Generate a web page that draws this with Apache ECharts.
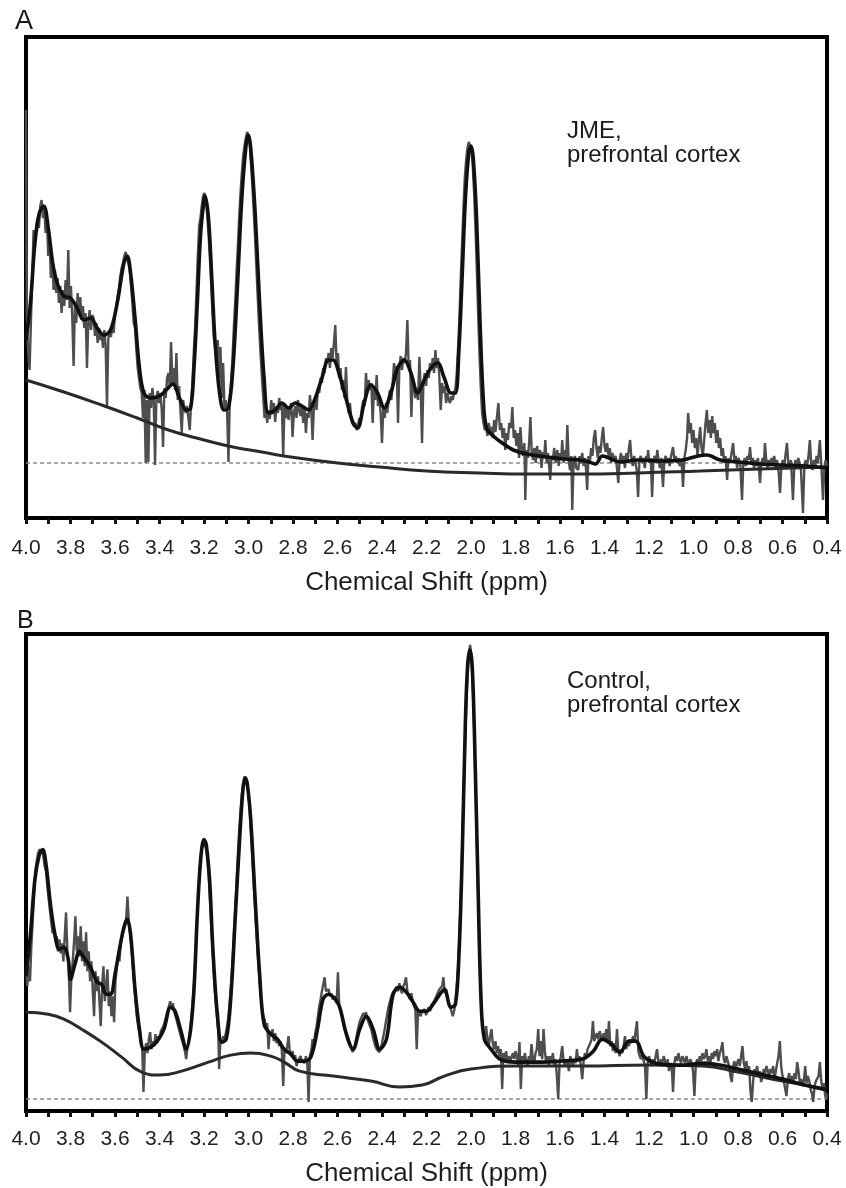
<!DOCTYPE html>
<html>
<head>
<meta charset="utf-8">
<script src="https://cdn.jsdelivr.net/npm/echarts@6/dist/echarts.min.js"></script>
<style>
html, body { margin: 0; background: #fff; }
#chart { width: 846px; height: 1188px; }
</style>
</head>
<body>
<div id="chart"></div>
<script>
var FONT = '"Liberation Sans", Arial, Helvetica, sans-serif';

// x range of both spectra (ppm, drawn right to left)
var shiftMin = 0.4, shiftMax = 4.0, shiftStep = 0.1;
var axisName = 'Chemical Shift (ppm)';
var panelLetters = ['A', 'B'];
var panelNotes = [['JME,', 'prefrontal cortex'], ['Control,', 'prefrontal cortex']];

// intensities in arbitrary units
// ---- panel A : JME ----
var fitA = [[4.00,178],[3.98,215],[3.96,275],[3.94,305],[3.92,312],[3.90,290],[3.88,255],[3.86,235],[3.83,222],[3.80,220],
  [3.77,210],[3.74,198],[3.71,200],[3.68,190],[3.65,183],[3.62,188],[3.59,215],[3.56,255],[3.545,262],[3.53,245],
  [3.51,200],[3.49,150],[3.47,125],[3.44,120],[3.40,122],[3.37,128],[3.34,134],[3.31,120],[3.28,108],[3.26,110],
  [3.245,150],[3.23,215],[3.215,285],[3.20,318],[3.195,322],[3.18,300],[3.165,240],[3.15,175],[3.13,125],[3.11,108],
  [3.09,110],[3.07,150],[3.05,230],[3.03,320],[3.01,375],[3.00,383],[2.99,370],[2.97,305],[2.95,215],[2.93,140],
  [2.91,105],[2.88,108],[2.85,115],[2.82,110],[2.79,115],[2.76,112],[2.73,108],[2.70,120],[2.67,140],[2.64,158],
  [2.62,158],[2.59,142],[2.56,118],[2.53,95],[2.51,90],[2.48,115],[2.45,133],[2.42,125],[2.39,110],[2.36,125],
  [2.33,150],[2.30,158],[2.27,145],[2.24,125],[2.21,138],[2.18,150],[2.15,155],[2.12,140],[2.09,125],[2.07,125],
  [2.055,165],[2.04,240],[2.025,320],[2.01,365],[2.00,372],[1.99,360],[1.975,300],[1.96,200],[1.945,120],[1.93,90],
  [1.90,82],[1.86,75],[1.81,68],[1.75,64],[1.66,61],[1.58,59],[1.51,58],[1.47,56],[1.44,54],[1.41,62],
  [1.38,60],[1.33,56],[1.25,58],[1.15,57],[1.05,58],[0.98,62],[0.94,63],[0.88,58],[0.80,56],[0.70,54],
  [0.60,53],[0.50,52],[0.40,50]];

var baseA = [[4.00,138],[3.83,126],[3.66,113],[3.50,100],[3.36,88],[3.20,78],[3.07,71],[2.94,66],[2.81,61],[2.60,55],
  [2.41,51],[2.20,47],[1.96,45],[1.75,44],[1.51,44],[1.25,45],[0.97,47],[0.70,49],[0.40,51]];

var dotA = 55;

var rawA = [[4.000,408],[3.998,300],[3.996,200],[3.990,165],[3.984,148],[3.978,195],[3.972,240],[3.966,288],[3.960,270],[3.954,292],[3.948,300],
  [3.942,290],[3.936,312],[3.930,318],[3.924,300],[3.918,310],[3.912,285],[3.906,298],[3.900,262],[3.894,275],[3.888,240],
  [3.882,258],[3.876,228],[3.870,248],[3.864,225],[3.858,240],[3.852,215],[3.846,232],[3.840,205],[3.834,228],[3.828,212],
  [3.822,238],[3.816,218],[3.810,268],[3.804,210],[3.798,232],[3.792,200],[3.786,152],[3.780,215],[3.774,195],[3.768,225],
  [3.762,205],[3.756,221],[3.750,198],[3.744,212],[3.738,190],[3.732,205],[3.726,150],[3.720,195],[3.714,208],[3.708,188],
  [3.702,203],[3.696,200],[3.690,182],[3.684,195],[3.678,175],[3.672,190],[3.666,178],[3.660,185],[3.654,170],[3.648,188],
  [3.642,172],[3.636,111],[3.630,180],[3.624,185],[3.618,181],[3.612,195],[3.606,185],[3.600,205],[3.594,212],[3.588,222],
  [3.582,230],[3.576,242],[3.570,250],[3.564,255],[3.558,262],[3.552,266],[3.546,260],[3.540,255],[3.534,248],[3.528,232],
  [3.522,215],[3.516,195],[3.510,190],[3.504,168],[3.498,150],[3.492,140],[3.486,130],[3.480,125],[3.474,100],[3.468,128],
  [3.462,55],[3.456,118],[3.450,56],[3.444,125],[3.438,110],[3.432,130],[3.426,118],[3.420,53],[3.414,120],[3.408,127],
  [3.402,115],[3.396,125],[3.390,108],[3.384,71],[3.378,130],[3.372,120],[3.366,140],[3.360,145],[3.354,132],[3.348,176],
  [3.342,135],[3.336,150],[3.330,128],[3.324,165],[3.318,118],[3.312,132],[3.306,108],[3.300,85],[3.294,118],[3.288,110],
  [3.282,105],[3.276,112],[3.270,100],[3.264,88],[3.258,115],[3.252,135],[3.246,165],[3.240,190],[3.234,225],[3.228,260],
  [3.222,292],[3.216,300],[3.210,312],[3.204,322],[3.198,325],[3.192,318],[3.186,305],[3.180,285],[3.174,262],[3.168,235],
  [3.162,205],[3.156,180],[3.150,172],[3.144,160],[3.138,178],[3.132,140],[3.126,171],[3.120,120],[3.114,155],[3.108,110],
  [3.102,118],[3.096,105],[3.090,56],[3.084,120],[3.078,138],[3.072,160],[3.066,190],[3.060,215],[3.054,245],[3.048,270],
  [3.042,300],[3.036,325],[3.030,345],[3.024,362],[3.018,372],[3.012,380],[3.006,386],[3.000,382],[2.994,372],[2.988,352],
  [2.982,330],[2.976,305],[2.970,278],[2.964,248],[2.958,218],[2.952,190],[2.946,165],[2.940,142],[2.934,121],[2.928,100],
  [2.922,112],[2.916,95],[2.910,108],[2.904,99],[2.898,118],[2.892,104],[2.886,115],[2.880,96],[2.874,112],[2.868,105],
  [2.862,120],[2.856,108],[2.850,113],[2.844,61],[2.838,115],[2.832,100],[2.826,112],[2.820,98],[2.814,110],[2.808,115],
  [2.802,81],[2.796,105],[2.790,112],[2.784,100],[2.778,118],[2.772,108],[2.766,102],[2.760,112],[2.754,95],[2.748,110],
  [2.742,85],[2.736,105],[2.730,100],[2.724,123],[2.718,110],[2.712,78],[2.706,112],[2.700,118],[2.694,108],[2.688,130],
  [2.682,125],[2.676,140],[2.670,135],[2.664,150],[2.658,145],[2.652,160],[2.646,155],[2.640,165],[2.634,150],[2.628,170],
  [2.622,160],[2.616,175],[2.610,193],[2.604,155],[2.598,165],[2.592,140],[2.586,150],[2.580,128],[2.574,138],[2.568,120],
  [2.562,151],[2.556,118],[2.550,105],[2.544,115],[2.538,98],[2.532,100],[2.526,92],[2.520,95],[2.514,88],[2.508,92],
  [2.502,100],[2.496,95],[2.490,110],[2.484,118],[2.478,112],[2.472,145],[2.466,125],[2.460,138],[2.454,128],[2.448,135],
  [2.442,95],[2.436,130],[2.430,118],[2.424,143],[2.418,112],[2.412,120],[2.406,105],[2.400,75],[2.394,110],[2.388,100],
  [2.382,115],[2.376,105],[2.370,120],[2.364,128],[2.358,118],[2.352,135],[2.346,155],[2.340,140],[2.334,152],[2.328,95],
  [2.322,150],[2.316,162],[2.310,148],[2.304,160],[2.298,155],[2.292,165],[2.286,198],[2.280,150],[2.274,158],[2.268,101],
  [2.262,140],[2.256,132],[2.250,120],[2.244,130],[2.238,118],[2.232,161],[2.226,128],[2.220,75],[2.214,135],[2.208,145],
  [2.202,132],[2.196,148],[2.190,140],[2.184,155],[2.178,148],[2.172,160],[2.166,145],[2.160,168],[2.154,150],[2.148,160],
  [2.142,140],[2.136,108],[2.130,135],[2.124,125],[2.118,132],[2.112,115],[2.106,125],[2.100,118],[2.094,115],[2.088,122],
  [2.082,118],[2.076,125],[2.070,130],[2.064,145],[2.058,170],[2.052,200],[2.046,240],[2.040,275],[2.034,310],[2.028,340],
  [2.022,358],[2.016,370],[2.010,376],[2.004,374],[1.998,368],[1.992,352],[1.986,325],[1.980,290],[1.974,250],[1.968,205],
  [1.962,165],[1.956,130],[1.950,105],[1.944,95],[1.938,88],[1.932,92],[1.926,82],[1.920,95],[1.914,85],[1.908,91],
  [1.902,80],[1.896,98],[1.890,86],[1.884,100],[1.877,115],[1.870,88],[1.864,95],[1.858,80],[1.852,90],[1.846,68],
  [1.840,85],[1.834,78],[1.828,95],[1.820,90],[1.814,111],[1.808,80],[1.802,88],[1.796,72],[1.790,85],[1.784,60],
  [1.778,91],[1.772,70],[1.766,62],[1.760,75],[1.756,18],[1.750,68],[1.744,60],[1.738,78],[1.733,101],[1.727,65],
  [1.721,58],[1.715,70],[1.709,55],[1.703,72],[1.697,60],[1.689,68],[1.683,50],[1.677,66],[1.671,60],[1.666,78],
  [1.660,55],[1.654,65],[1.648,50],[1.644,38],[1.638,62],[1.632,58],[1.626,70],[1.620,55],[1.612,68],[1.606,52],
  [1.600,65],[1.594,60],[1.590,78],[1.584,55],[1.578,68],[1.572,60],[1.567,93],[1.561,58],[1.555,48],[1.549,62],
  [1.545,8],[1.539,55],[1.533,62],[1.527,50],[1.518,48],[1.512,62],[1.506,55],[1.500,65],[1.494,52],[1.487,60],
  [1.482,45],[1.478,28],[1.472,62],[1.466,55],[1.460,70],[1.454,62],[1.448,80],[1.442,88],[1.436,70],[1.430,60],
  [1.424,72],[1.418,65],[1.412,80],[1.406,91],[1.400,72],[1.394,66],[1.388,75],[1.382,62],[1.376,70],[1.370,55],
  [1.364,65],[1.358,58],[1.350,62],[1.344,50],[1.338,35],[1.332,58],[1.326,65],[1.320,55],[1.314,62],[1.308,50],
  [1.302,65],[1.296,58],[1.290,70],[1.285,78],[1.279,60],[1.273,52],[1.267,62],[1.261,55],[1.255,48],[1.249,21],
  [1.243,58],[1.237,62],[1.231,55],[1.225,60],[1.219,50],[1.213,62],[1.207,58],[1.204,68],[1.198,55],[1.192,60],
  [1.186,21],[1.180,58],[1.174,62],[1.168,55],[1.163,68],[1.157,58],[1.151,50],[1.145,60],[1.137,31],[1.131,58],
  [1.125,62],[1.119,55],[1.113,60],[1.107,52],[1.101,62],[1.092,71],[1.086,58],[1.080,62],[1.074,55],[1.068,60],
  [1.062,52],[1.054,58],[1.047,31],[1.041,60],[1.035,68],[1.029,80],[1.024,105],[1.018,85],[1.012,95],[1.006,75],
  [1.000,88],[0.994,70],[0.988,80],[0.982,62],[0.976,78],[0.970,91],[0.964,70],[0.958,62],[0.952,78],[0.946,95],
  [0.940,108],[0.934,85],[0.928,98],[0.922,80],[0.916,102],[0.910,85],[0.904,95],[0.898,75],[0.892,88],[0.886,70],
  [0.880,80],[0.874,62],[0.868,70],[0.862,55],[0.856,62],[0.849,38],[0.843,60],[0.837,55],[0.831,62],[0.822,75],
  [0.816,58],[0.810,62],[0.804,50],[0.798,60],[0.790,55],[0.782,18],[0.776,55],[0.770,60],[0.764,52],[0.758,62],
  [0.752,58],[0.746,71],[0.740,55],[0.734,60],[0.728,50],[0.722,58],[0.716,52],[0.710,60],[0.701,35],[0.695,55],
  [0.689,60],[0.684,52],[0.679,75],[0.673,58],[0.667,50],[0.661,58],[0.655,52],[0.649,60],[0.643,55],[0.637,62],
  [0.631,50],[0.625,58],[0.617,45],[0.611,25],[0.605,52],[0.599,58],[0.593,50],[0.587,62],[0.580,75],[0.574,55],
  [0.568,50],[0.562,58],[0.553,18],[0.547,52],[0.541,58],[0.535,50],[0.529,60],[0.523,55],[0.517,48],[0.508,5],
  [0.502,50],[0.496,58],[0.490,52],[0.484,60],[0.477,78],[0.471,55],[0.465,48],[0.459,58],[0.453,50],[0.447,62],
  [0.441,55],[0.432,78],[0.426,55],[0.418,18],[0.412,50],[0.406,58],[0.400,52]];

// ---- panel B : control ----
var fitB = [[4.00,135],[3.98,177],[3.96,232],[3.94,257],[3.925,262],[3.91,247],[3.89,207],[3.87,177],[3.85,162],[3.83,164],
  [3.81,152],[3.80,132],[3.78,147],[3.76,160],[3.74,154],[3.71,144],[3.68,129],[3.66,127],[3.64,117],[3.62,117],
  [3.60,137],[3.58,162],[3.56,184],[3.545,192],[3.53,177],[3.51,122],[3.49,82],[3.47,62],[3.44,64],[3.41,70],
  [3.38,82],[3.35,104],[3.33,100],[3.30,77],[3.28,62],[3.26,82],[3.245,122],[3.23,197],[3.215,252],[3.20,272],
  [3.19,267],[3.175,232],[3.16,162],[3.14,97],[3.12,69],[3.10,72],[3.08,112],[3.06,192],[3.04,272],[3.025,322],
  [3.015,334],[3.005,327],[2.99,292],[2.97,212],[2.95,137],[2.93,87],[2.90,77],[2.87,72],[2.84,62],[2.81,57],
  [2.78,50],[2.75,50],[2.72,54],[2.69,82],[2.665,112],[2.64,117],[2.61,112],[2.59,104],[2.56,77],[2.53,62],
  [2.50,82],[2.47,95],[2.44,82],[2.41,62],[2.38,72],[2.35,117],[2.32,124],[2.29,119],[2.26,109],[2.23,100],
  [2.20,100],[2.17,107],[2.14,117],[2.12,122],[2.09,104],[2.07,107],[2.055,152],[2.04,252],[2.025,392],[2.015,447],
  [2.005,462],[1.995,447],[1.985,382],[1.97,242],[1.955,112],[1.94,72],[1.91,62],[1.87,52],[1.80,49],[1.70,49],
  [1.60,50],[1.50,52],[1.45,60],[1.41,72],[1.37,67],[1.33,59],[1.29,70],[1.26,70],[1.22,54],[1.15,47],
  [1.05,46],[0.95,48],[0.88,46],[0.80,42],[0.70,37],[0.60,32],[0.50,26],[0.40,21]];

var baseB = [[4.00,99],[3.90,97],[3.83,92],[3.75,82],[3.66,69],[3.57,54],[3.48,39],[3.40,36],[3.30,40],[3.18,49],
  [3.08,56],[2.99,58],[2.90,55],[2.84,49],[2.77,40],[2.62,35],[2.45,30],[2.32,24],[2.22,26],[2.12,35],
  [2.00,42],[1.80,45],[1.50,45],[1.20,46],[0.96,45],[0.80,39],[0.60,30],[0.40,22]];

var dotB = 12;

var rawB = [[4.000,140],[3.994,125],[3.988,145],[3.982,130],[3.976,165],[3.970,190],[3.964,215],[3.958,240],[3.952,250],[3.946,258],
  [3.940,262],[3.934,264],[3.928,260],[3.922,255],[3.916,245],[3.910,240],[3.904,225],[3.898,212],[3.892,200],[3.886,188],
  [3.880,178],[3.874,182],[3.868,170],[3.862,175],[3.856,160],[3.850,172],[3.844,158],[3.838,168],[3.832,150],[3.826,175],
  [3.820,199],[3.814,160],[3.808,140],[3.802,99],[3.796,135],[3.790,150],[3.784,170],[3.778,195],[3.772,160],[3.766,175],
  [3.760,155],[3.754,185],[3.748,150],[3.742,170],[3.736,145],[3.730,179],[3.724,140],[3.718,160],[3.712,130],[3.706,150],
  [3.700,120],[3.694,95],[3.688,140],[3.682,120],[3.676,135],[3.670,110],[3.664,85],[3.658,125],[3.652,145],[3.646,110],
  [3.640,125],[3.634,142],[3.628,105],[3.622,120],[3.616,95],[3.610,115],[3.604,89],[3.598,130],[3.592,145],[3.586,155],
  [3.580,150],[3.574,169],[3.568,175],[3.562,180],[3.556,185],[3.550,192],[3.544,215],[3.538,190],[3.532,178],[3.526,165],
  [3.520,145],[3.514,128],[3.508,110],[3.502,95],[3.496,85],[3.490,78],[3.484,70],[3.478,65],[3.472,19],[3.466,60],
  [3.460,68],[3.454,58],[3.448,72],[3.442,79],[3.436,62],[3.430,70],[3.424,65],[3.418,77],[3.412,68],[3.406,75],
  [3.400,72],[3.394,80],[3.388,78],[3.382,85],[3.376,90],[3.370,95],[3.364,100],[3.358,105],[3.352,110],[3.346,104],
  [3.340,108],[3.334,100],[3.328,95],[3.322,90],[3.316,85],[3.310,80],[3.304,75],[3.298,70],[3.292,66],[3.286,60],
  [3.280,52],[3.274,65],[3.268,72],[3.262,80],[3.256,95],[3.250,112],[3.244,130],[3.238,155],[3.232,185],[3.226,215],
  [3.220,240],[3.214,258],[3.208,268],[3.202,272],[3.196,270],[3.190,262],[3.184,250],[3.178,232],[3.172,205],[3.166,180],
  [3.160,155],[3.154,130],[3.148,110],[3.142,95],[3.136,80],[3.132,42],[3.126,72],[3.120,68],[3.114,75],[3.108,72],
  [3.102,78],[3.096,85],[3.090,95],[3.084,110],[3.078,128],[3.072,150],[3.066,175],[3.060,200],[3.054,228],[3.048,255],
  [3.042,280],[3.036,300],[3.030,318],[3.024,328],[3.018,335],[3.012,337],[3.006,330],[3.000,318],[2.994,300],[2.988,275],
  [2.982,250],[2.976,225],[2.970,200],[2.964,178],[2.958,155],[2.952,135],[2.946,118],[2.940,105],[2.934,95],[2.928,92],
  [2.922,85],[2.916,88],[2.910,62],[2.904,80],[2.898,75],[2.892,82],[2.886,70],[2.880,78],[2.874,68],[2.868,72],
  [2.862,65],[2.856,70],[2.850,60],[2.844,25],[2.838,62],[2.832,58],[2.826,65],[2.820,75],[2.814,58],[2.808,55],
  [2.802,60],[2.796,52],[2.790,56],[2.784,45],[2.778,50],[2.772,48],[2.766,55],[2.760,50],[2.754,52],[2.748,48],
  [2.742,55],[2.736,50],[2.730,9],[2.724,55],[2.718,60],[2.712,72],[2.706,68],[2.700,78],[2.694,85],[2.688,95],
  [2.682,105],[2.676,112],[2.670,120],[2.664,118],[2.658,134],[2.652,120],[2.646,118],[2.640,122],[2.634,115],[2.628,118],
  [2.622,112],[2.616,110],[2.610,115],[2.604,108],[2.598,139],[2.592,105],[2.586,100],[2.580,95],[2.574,88],[2.568,82],
  [2.562,78],[2.556,72],[2.550,68],[2.544,65],[2.538,62],[2.532,59],[2.526,62],[2.520,68],[2.514,75],[2.508,82],
  [2.502,88],[2.496,92],[2.490,95],[2.484,98],[2.478,95],[2.472,99],[2.466,92],[2.460,90],[2.454,85],[2.448,82],
  [2.442,75],[2.436,70],[2.430,65],[2.424,62],[2.418,60],[2.412,59],[2.406,62],[2.400,68],[2.394,75],[2.388,82],
  [2.382,90],[2.376,98],[2.370,105],[2.364,110],[2.358,115],[2.352,118],[2.346,120],[2.340,122],[2.334,125],[2.328,120],
  [2.322,128],[2.316,122],[2.310,118],[2.304,125],[2.298,128],[2.292,134],[2.286,120],[2.280,115],[2.274,112],[2.268,118],
  [2.262,110],[2.256,105],[2.250,102],[2.244,62],[2.238,100],[2.232,98],[2.226,95],[2.220,100],[2.214,98],[2.208,102],
  [2.202,96],[2.196,100],[2.190,104],[2.184,100],[2.178,106],[2.172,104],[2.166,110],[2.160,112],[2.154,116],[2.148,118],
  [2.142,122],[2.136,120],[2.130,125],[2.124,134],[2.118,118],[2.112,122],[2.106,112],[2.100,108],[2.094,104],[2.088,100],
  [2.082,95],[2.076,100],[2.070,108],[2.064,125],[2.058,145],[2.052,175],[2.046,215],[2.040,260],[2.034,310],[2.028,360],
  [2.022,400],[2.016,435],[2.010,458],[2.004,467],[1.998,455],[1.992,425],[1.986,385],[1.980,330],[1.974,270],[1.968,215],
  [1.962,160],[1.956,115],[1.950,90],[1.944,78],[1.938,70],[1.932,85],[1.926,72],[1.920,65],[1.914,75],[1.908,82],
  [1.902,68],[1.896,62],[1.890,70],[1.884,58],[1.878,65],[1.872,55],[1.866,62],[1.860,22],[1.854,58],[1.848,52],
  [1.842,60],[1.836,48],[1.830,55],[1.824,50],[1.818,49],[1.812,58],[1.806,52],[1.800,60],[1.794,55],[1.788,45],
  [1.782,69],[1.776,22],[1.770,55],[1.764,48],[1.758,58],[1.752,50],[1.746,45],[1.740,55],[1.734,50],[1.728,67],
  [1.722,52],[1.716,48],[1.710,58],[1.704,62],[1.698,82],[1.692,55],[1.686,70],[1.680,52],[1.674,82],[1.668,60],
  [1.662,48],[1.656,55],[1.650,45],[1.644,55],[1.638,50],[1.632,58],[1.626,45],[1.620,52],[1.614,35],[1.608,12],
  [1.602,48],[1.596,55],[1.590,65],[1.584,50],[1.578,45],[1.572,52],[1.566,48],[1.560,40],[1.554,55],[1.548,50],
  [1.542,45],[1.536,52],[1.530,48],[1.524,62],[1.518,50],[1.512,55],[1.506,45],[1.500,32],[1.494,50],[1.488,58],
  [1.482,55],[1.476,62],[1.470,60],[1.464,68],[1.458,72],[1.452,90],[1.446,70],[1.440,75],[1.434,78],[1.428,72],
  [1.422,80],[1.416,75],[1.410,70],[1.404,78],[1.398,72],[1.392,82],[1.386,68],[1.380,90],[1.374,65],[1.368,70],
  [1.362,60],[1.356,68],[1.350,58],[1.344,82],[1.338,60],[1.332,55],[1.326,62],[1.320,58],[1.314,65],[1.308,75],
  [1.302,62],[1.296,70],[1.290,65],[1.284,72],[1.278,68],[1.272,75],[1.266,70],[1.260,72],[1.254,90],[1.248,60],
  [1.242,55],[1.236,52],[1.230,58],[1.224,50],[1.218,45],[1.212,12],[1.206,48],[1.200,55],[1.194,50],[1.188,45],
  [1.182,52],[1.176,48],[1.170,55],[1.164,62],[1.158,50],[1.152,45],[1.146,52],[1.140,48],[1.134,55],[1.128,50],
  [1.122,45],[1.116,52],[1.110,40],[1.104,48],[1.098,45],[1.092,19],[1.086,48],[1.080,55],[1.074,50],[1.068,58],
  [1.062,52],[1.056,48],[1.050,55],[1.044,52],[1.038,48],[1.032,55],[1.026,50],[1.020,45],[1.014,52],[1.008,48],
  [1.002,40],[0.996,15],[0.990,45],[0.984,52],[0.978,48],[0.972,55],[0.966,50],[0.960,58],[0.954,52],[0.948,55],
  [0.942,62],[0.936,50],[0.930,55],[0.924,48],[0.918,58],[0.912,52],[0.906,60],[0.900,55],[0.894,62],[0.888,50],
  [0.882,58],[0.876,62],[0.870,69],[0.864,52],[0.858,48],[0.852,55],[0.846,50],[0.840,45],[0.834,35],[0.828,29],
  [0.822,45],[0.816,50],[0.810,42],[0.804,48],[0.798,52],[0.792,45],[0.786,55],[0.780,65],[0.774,48],[0.768,42],
  [0.762,50],[0.756,38],[0.750,45],[0.744,20],[0.738,9],[0.732,30],[0.726,42],[0.720,38],[0.714,45],[0.708,35],
  [0.702,40],[0.696,29],[0.690,35],[0.684,42],[0.678,38],[0.672,45],[0.666,40],[0.660,35],[0.654,42],[0.648,38],
  [0.642,45],[0.636,32],[0.630,40],[0.624,48],[0.618,55],[0.612,70],[0.606,45],[0.600,35],[0.594,30],[0.588,22],
  [0.582,15],[0.576,32],[0.570,38],[0.564,28],[0.558,35],[0.552,30],[0.546,38],[0.540,32],[0.534,49],[0.528,40],
  [0.522,28],[0.516,32],[0.510,25],[0.504,30],[0.498,45],[0.492,28],[0.486,35],[0.480,30],[0.474,22],[0.468,18],
  [0.462,9],[0.456,25],[0.450,30],[0.444,28],[0.438,35],[0.432,49],[0.426,30],[0.420,22],[0.414,28],[0.408,15],
  [0.402,12],[0.400,18]];

var myChart = echarts.init(document.getElementById('chart'), null, { renderer: 'canvas' });

// grid rectangles (frame centre lines)
var grids = [
  { left: 26, right: 19, top: 37, height: 481 },
  { left: 26, right: 19, top: 634, height: 478 }
];
var yMax = [481, 478];

function tickLabel(v) {
  var t = Math.round(v * 10);
  return t % 2 === 0 ? (t / 10).toFixed(1) : '';
}

function xAxisFor(i, margin, gap) {
  return {
    type: 'value', gridIndex: i, min: shiftMin, max: shiftMax, interval: shiftStep, inverse: true,
    axisLine: { show: false },
    axisTick: { show: true, length: 6, lineStyle: { color: '#111', width: 3 } },
    axisLabel: { margin: margin, fontSize: 21, color: '#1e1e1e', fontFamily: FONT, formatter: tickLabel },
    splitLine: { show: false },
    name: axisName, nameLocation: 'middle', nameGap: gap,
    nameTextStyle: { fontSize: 26, color: '#1e1e1e', fontFamily: FONT }
  };
}

function yAxisFor(i) {
  return {
    type: 'value', gridIndex: i, min: 0, max: yMax[i],
    axisLine: { show: false }, axisTick: { show: false }, axisLabel: { show: false }, splitLine: { show: false }
  };
}

function panelSeries(i, raw, fit, base, dot) {
  return [
    { type: 'line', xAxisIndex: i, yAxisIndex: i, data: raw, showSymbol: false, symbol: 'none',
      lineStyle: { color: '#4e4e4e', width: 2.4 }, z: 2 },
    { type: 'line', xAxisIndex: i, yAxisIndex: i, data: base, showSymbol: false, symbol: 'none', smooth: true,
      lineStyle: { color: '#2a2a2a', width: 3 }, z: 3 },
    { type: 'line', xAxisIndex: i, yAxisIndex: i, data: [[shiftMax, dot], [shiftMin, dot]], showSymbol: false, symbol: 'none',
      lineStyle: { color: '#8a8a8a', width: 1.5, type: [4, 3] }, z: 1 },
    { type: 'line', xAxisIndex: i, yAxisIndex: i, data: fit, showSymbol: false, symbol: 'none', smooth: 0.35,
      lineStyle: { color: '#111', width: 3.6 }, z: 4 }
  ];
}

function txt(s, x, y, size) {
  return { type: 'text', x: x, y: y, silent: true,
    style: { text: s, font: size + 'px ' + FONT, fill: '#1a1a1a', align: 'left', verticalAlign: 'middle' } };
}

var option = {
  backgroundColor: '#fff',
  animation: false,
  grid: grids.map(function (g) {
    return Object.assign({ show: true, borderColor: '#000', borderWidth: 4, backgroundColor: 'transparent' }, g);
  }),
  xAxis: [xAxisFor(0, 20, 52), xAxisFor(1, 18, 50)],
  yAxis: [yAxisFor(0), yAxisFor(1)],
  series: panelSeries(0, rawA, fitA, baseA, dotA).concat(panelSeries(1, rawB, fitB, baseB, dotB)),
  graphic: [
    txt(panelLetters[0], 15, 22, 27),
    txt(panelLetters[1], 17, 621, 25),
    txt(panelNotes[0][0], 567, 131, 24),
    txt(panelNotes[0][1], 567, 155, 24),
    txt(panelNotes[1][0], 567, 681, 24),
    txt(panelNotes[1][1], 567, 705, 24)
  ]
};

myChart.setOption(option);
</script>
</body>
</html>
